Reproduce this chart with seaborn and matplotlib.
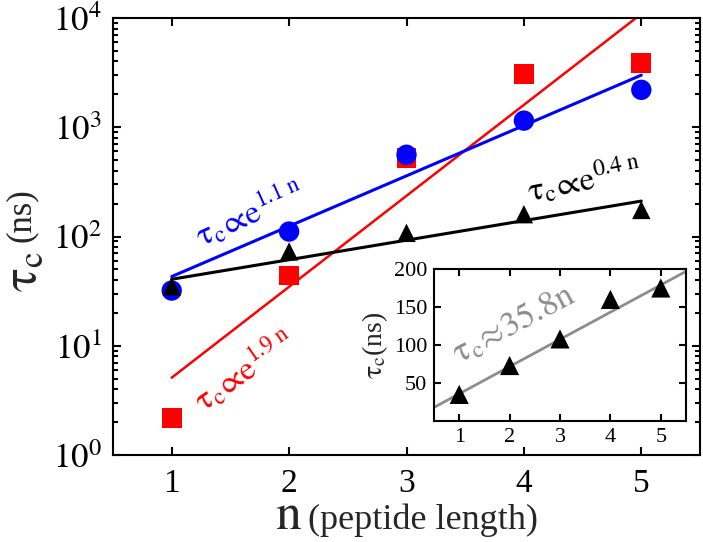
import numpy as np
import pandas as pd
import matplotlib
matplotlib.use('Agg')
import matplotlib.pyplot as plt
import seaborn as sns
from matplotlib.ticker import LogLocator, FixedLocator, NullFormatter, FixedFormatter

# ---------------- data ----------------
n_vals = [1, 2, 3, 4, 5]
tau_red = [2.2, 44, 520, 3100, 3850]
tau_blue = [32, 111, 560, 1150, 2200]
tau_black = [35, 73, 108, 160, 175]

fit_n = [1, 5]
fit_red = [5.1, 10900]
fit_blue = [43, 3000]
fit_black = [40.6, 211]

inset_fit_n = [0.5, 5.5]
inset_fit_tau = [17.9, 196.9]

x_ticks = [1, 2, 3, 4, 5]
y_ticks = [1, 10, 100, 1000, 10000]
y_tick_labels = [r'$10^{0}$', r'$10^{1}$', r'$10^{2}$', r'$10^{3}$', r'$10^{4}$']
inset_y_ticks = [50, 100, 150, 200]

RED = '#ff0000'
BLUE = '#0000ff'
BLACK = '#000000'
GRAY = '#8c8c8c'

# ---------------- style ----------------
sns.set_theme(style='ticks')
plt.rcParams['font.family'] = ['Liberation Serif', 'DejaVu Serif']
plt.rcParams['mathtext.fontset'] = 'stix'
plt.rcParams['axes.linewidth'] = 1.5

W, H = 703, 542
fig = plt.figure(figsize=(W / 100, H / 100), dpi=100)

def fx(px):
    return px / W

def fy(py):
    return (H - py) / H

ax = fig.add_axes([fx(113), fy(455), fx(700) - fx(113), fy(18) - fy(455)])
ax.set_yscale('log')

# lines
sns.lineplot(x=fit_n, y=fit_red, color=RED, lw=1.8, ax=ax, sort=False, estimator=None, zorder=2)
sns.lineplot(x=fit_n, y=fit_blue, color=BLUE, lw=2.2, ax=ax, sort=False, estimator=None, zorder=2)
sns.lineplot(x=fit_n, y=fit_black, color=BLACK, lw=2.2, ax=ax, sort=False, estimator=None, zorder=2)

# markers
sns.scatterplot(x=n_vals, y=tau_red, marker='s', s=205, color=RED, edgecolor='none', ax=ax, zorder=3)
sns.scatterplot(x=n_vals, y=tau_blue, marker='o', s=215, color=BLUE, edgecolor='none', ax=ax, zorder=4)
sns.scatterplot(x=n_vals, y=tau_black, marker='^', s=175, color=BLACK, edgecolor='none', ax=ax, zorder=5)

ax.set_xlim(0.5, 5.5)
ax.set_ylim(1, 1e4)
ax.xaxis.set_major_locator(FixedLocator(x_ticks))
ax.set_xticklabels([str(t) for t in x_ticks], fontsize=24)
ax.yaxis.set_major_locator(FixedLocator(y_ticks))
ax.yaxis.set_major_formatter(FixedFormatter(y_tick_labels))
ax.yaxis.set_minor_locator(LogLocator(base=10, subs=np.arange(2, 10), numticks=20))
ax.yaxis.set_minor_formatter(NullFormatter())
ax.xaxis.set_minor_locator(FixedLocator([]))
for lbl in ax.get_yticklabels():
    lbl.set_fontsize(25)
ax.tick_params(which='both', direction='in', top=True, right=True, colors='black', width=1.5)
ax.tick_params(which='major', length=6, pad=8)
ax.tick_params(which='minor', length=3.5)
ax.tick_params(axis='x', which='major', pad=10)
ax.set_xlabel('')
ax.set_ylabel('')
for s in ax.spines.values():
    s.set_color('black')
    s.set_linewidth(1.5)

# annotations
ax.text(1.67, 164, r'$\mathrm{\tau_c\!\propto\! e^{1.1\ n}}$', color=BLUE, fontsize=24,
        rotation=24, ha='center', va='center', rotation_mode='anchor')
ax.text(1.62, 6.0, r'$\mathrm{\tau_c\!\propto\! e^{1.9\ n}}$', color=RED, fontsize=24,
        rotation=35, ha='center', va='center', rotation_mode='anchor')
ax.text(4.52, 329, r'$\mathrm{\tau_c\!\propto\! e^{0.4\ n}}$', color=BLACK, fontsize=24,
        rotation=11, ha='center', va='center', rotation_mode='anchor')

# axis labels (main)
fig.text(fx(2), fy(292), r'$\mathrm{\tau_c}$', fontsize=36, rotation=90, ha='left', va='bottom')
fig.text(fx(5), fy(242), '(ns)', fontsize=25, rotation=90, ha='left', va='bottom')
fig.text(fx(302), fy(529), r'$\mathrm{n}$', fontsize=37, ha='right', va='baseline')
fig.text(fx(308), fy(529), '(peptide length)', fontsize=26, ha='left', va='baseline')

# ---------------- inset ----------------
axi = fig.add_axes([fx(434), fy(421), fx(686) - fx(434), fy(269) - fy(421)])
axi.set_facecolor('white')
sns.lineplot(x=inset_fit_n, y=inset_fit_tau, color=GRAY, lw=2.0, ax=axi, sort=False, estimator=None, zorder=2)
sns.scatterplot(x=n_vals, y=tau_black, marker='^', s=190, color=BLACK, edgecolor='none', ax=axi, zorder=3)
axi.set_xlim(0.5, 5.5)
axi.set_ylim(0, 200)
axi.xaxis.set_major_locator(FixedLocator(x_ticks))
axi.yaxis.set_major_locator(FixedLocator(inset_y_ticks))
axi.set_xticklabels([str(t) for t in x_ticks], fontsize=16)
axi.set_yticklabels([str(t) for t in inset_y_ticks], fontsize=16)
axi.tick_params(which='major', direction='in', top=True, right=True, length=5, width=1.5, pad=5, colors='black')
axi.set_xlabel('')
axi.set_ylabel(r'$\mathrm{\tau_c}$(ns)', fontsize=20, labelpad=3)
for s in axi.spines.values():
    s.set_color('black')
    s.set_linewidth(1.5)
axi.text(2.1, 126.6, r'$\mathrm{\tau_c\!\approx\! 35.8n}$', color=GRAY, fontsize=25,
         rotation=28, ha='center', va='center', rotation_mode='anchor')

fig.savefig('out.png', dpi=100)
